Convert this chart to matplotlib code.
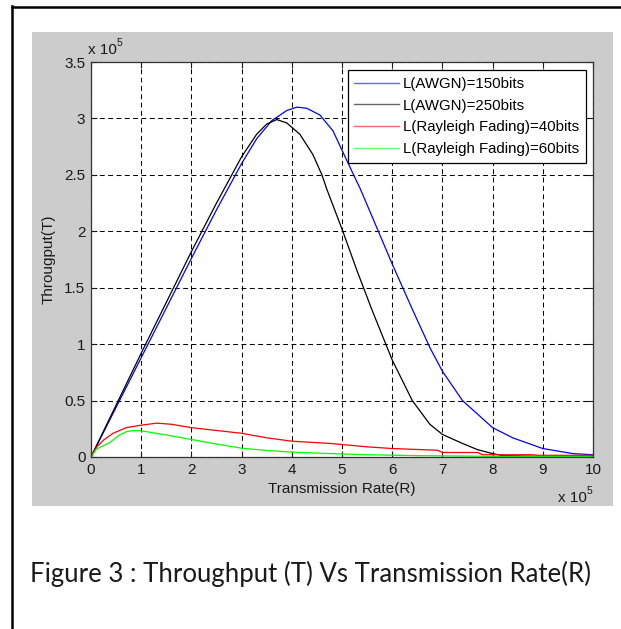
import matplotlib
matplotlib.use("Agg")
import matplotlib.pyplot as plt
from matplotlib.patches import Rectangle
from matplotlib.lines import Line2D

# ---- data (R and T in units of 1e5) ----
r_awgn150 = [0, 0.5, 1, 1.5, 2, 2.5, 3, 3.3, 3.6, 3.9, 4.1, 4.3, 4.56, 4.82, 5.03,
             5.22, 5.36, 5.6, 6.0, 6.4, 6.75, 7.0, 7.4, 8.0, 8.4, 9.0, 9.6, 10]
t_awgn150 = [0, 0.44, 0.88, 1.32, 1.76, 2.19, 2.60, 2.82, 2.98, 3.07, 3.10, 3.09, 3.03,
             2.89, 2.69, 2.51, 2.38, 2.13, 1.71, 1.31, 0.97, 0.76, 0.50, 0.26, 0.17,
             0.075, 0.03, 0.02]

r_awgn250 = [0, 0.5, 1, 1.5, 2, 2.5, 3, 3.3, 3.5, 3.7, 3.9, 4.16, 4.42, 4.6, 4.7, 5.0,
             5.3, 5.6, 6.0, 6.4, 6.75, 7.0, 7.4, 7.7, 8.0, 8.2, 8.5, 9, 10]
t_awgn250 = [0, 0.46, 0.92, 1.37, 1.82, 2.25, 2.66, 2.86, 2.95, 2.99, 2.96, 2.86, 2.68,
             2.50, 2.37, 2.02, 1.65, 1.30, 0.86, 0.50, 0.29, 0.20, 0.12, 0.065, 0.03,
             0.012, 0.01, 0.005, 0.002]

r_ray40 = [0, 0.11, 0.25, 0.44, 0.7, 0.97, 1.31, 1.6, 2.0, 2.5, 3.0, 3.5, 4.0, 4.77,
           5.5, 6.0, 6.9, 7.0, 7.7, 7.8, 8.8, 8.9, 10]
t_ray40 = [0, 0.087, 0.15, 0.21, 0.26, 0.28, 0.30, 0.29, 0.26, 0.235, 0.21, 0.17, 0.14,
           0.12, 0.09, 0.075, 0.06, 0.04, 0.04, 0.02, 0.02, 0.015, 0.015]

r_ray60 = [0, 0.11, 0.38, 0.55, 0.71, 0.85, 1.0, 1.5, 2.0, 2.5, 3.0, 3.5, 4.0, 4.77,
           5.5, 6.5, 8, 10]
t_ray60 = [0, 0.07, 0.13, 0.19, 0.225, 0.235, 0.232, 0.195, 0.155, 0.115, 0.078, 0.058,
           0.043, 0.03, 0.02, 0.012, 0.006, 0.004]

labels = ["L(AWGN)=150bits", "L(AWGN)=250bits",
          "L(Rayleigh Fading)=40bits", "L(Rayleigh Fading)=60bits"]
colors = ["#0000ff", "#000000", "#ff0000", "#00ff00"]

x_ticks = [0, 1, 2, 3, 4, 5, 6, 7, 8, 9, 10]
y_ticks = [0, 0.5, 1, 1.5, 2, 2.5, 3, 3.5]
y_ticklabels = ["0", "0.5", "1", "1.5", "2", "2.5", "3", "3.5"]

plt.rcParams['lines.scale_dashes'] = False
W, H = 621, 629
fig = plt.figure(figsize=(W / 100, H / 100), dpi=100)
fig.patch.set_facecolor("white")

def fx(px):
    return px / W

def fy(py):
    return 1 - py / H

# grey figure area
fig.patches.append(Rectangle((fx(32), fy(506)), (613 - 32) / W, (506 - 32) / H,
                             transform=fig.transFigure, facecolor="#cccccc",
                             edgecolor="none", zorder=0))
# outer border (left and top)
fig.lines.append(Line2D([fx(12), fx(12)], [fy(6), 0], transform=fig.transFigure,
                        color="black", lw=1.8, zorder=1))
fig.lines.append(Line2D([fx(12), 1], [fy(7), fy(7)], transform=fig.transFigure,
                        color="black", lw=1.8, zorder=1))

ax = fig.add_axes([fx(91), fy(457), (593 - 91) / W, (457 - 62) / H])
ax.set_facecolor("white")
ax.set_zorder(2)

series = [(r_awgn150, t_awgn150), (r_awgn250, t_awgn250),
          (r_ray40, t_ray40), (r_ray60, t_ray60)]
for (r, t), c, lab in zip(series, colors, labels):
    ax.plot(r, t, color=c, lw=0.9, label=lab)

ax.set_xlim(0, 10)
ax.set_ylim(0, 3.5)
ax.set_xticks(x_ticks)
ax.set_xticklabels([str(v) for v in x_ticks])
ax.set_yticks(y_ticks)
ax.set_yticklabels(y_ticklabels)

font = "Liberation Sans"
for lbl in ax.get_xticklabels() + ax.get_yticklabels():
    lbl.set_fontfamily(font)
    lbl.set_fontsize(11)
    lbl.set_color("#1a1a1a")

ax.tick_params(direction="in", length=4, width=0.8, top=True, right=True,
               pad=4, colors="#1a1a1a")
ax.grid(True, color="black", linestyle=(0, (3.5, 2.5)), linewidth=0.75)
for s in ax.spines.values():
    s.set_color("#333333")
    s.set_linewidth(0.9)

ax.set_xlabel("Transmission Rate(R)", fontfamily=font, fontsize=11, color="#1a1a1a",
              labelpad=4)
ax.set_ylabel("Througput(T)", fontfamily=font, fontsize=11, color="#1a1a1a",
              labelpad=6)

# exponent annotations (MATLAB style)
fig.text(fx(88), fy(54), "x 10", fontfamily=font, fontsize=11, color="#1a1a1a",
         ha="left", va="baseline")
fig.text(fx(117), fy(46), "5", fontfamily=font, fontsize=7.5, color="#1a1a1a",
         ha="left", va="baseline")
fig.text(fx(558), fy(502), "x 10", fontfamily=font, fontsize=11, color="#1a1a1a",
         ha="left", va="baseline")
fig.text(fx(587), fy(494), "5", fontfamily=font, fontsize=7.5, color="#1a1a1a",
         ha="left", va="baseline")

leg = ax.legend(loc="upper right",
                bbox_to_anchor=((586 - 91) / 502, (457 - 70) / 395),
                borderaxespad=0, fancybox=False, framealpha=1, edgecolor="black",
                prop={"family": font, "size": 10.8}, handlelength=3.0,
                handletextpad=0.25, labelspacing=0.52, borderpad=0.45)
leg.get_frame().set_linewidth(0.9)
for line in leg.get_lines():
    line.set_linewidth(1.0)
    line.set_alpha(0.6)

fig.text(fx(310), fy(582), "Figure 3 : Throughput (T) Vs Transmission Rate(R)",
         fontfamily="Lato", fontsize=18.5, color="#1a1a1a", ha="center", va="baseline")

fig.savefig("out.png", dpi=100, facecolor="white")
